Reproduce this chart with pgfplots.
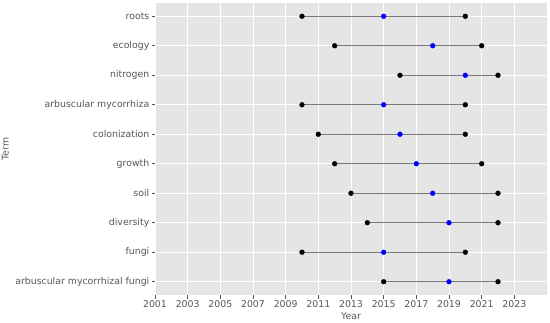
\documentclass[border=0pt]{standalone}
\usepackage{pgfplots}
\usepackage{pgfplotstable}
\pgfplotsset{compat=1.18}
\usepackage{fontspec}
\setmainfont{DejaVu Sans}
\definecolor{bggray}{HTML}{E5E5E5}
\definecolor{textgray}{HTML}{555555}
\definecolor{linegray}{HTML}{7A7A7A}
\pgfplotstableread{
y lo mid hi
9 2010 2015 2020
8 2012 2018 2021
7 2016 2020 2022
6 2010 2015 2020
5 2011 2016 2020
4 2012 2017 2021
3 2013 2018 2022
2 2014 2019 2022
1 2010 2015 2020
0 2015 2019 2022
}\terms
\begin{document}
\begin{tikzpicture}
\path[use as bounding box] (0,0) rectangle (550bp,323bp);
\begin{axis}[
  at={(155bp,28bp)}, anchor=south west,
  scale only axis, width=392bp, height=292bp,
  xmin=2001, xmax=2025, ymin=-0.45, ymax=9.45,
  xtick={2001,2003,...,2023}, ytick={0,...,9},
  yticklabels={arbuscular mycorrhizal fungi, fungi, diversity, soil, growth, colonization, arbuscular mycorrhiza, nitrogen, ecology, roots},
  axis background/.style={fill=bggray},
  axis line style={draw=none},
  grid=major, major grid style={white, line width=0.9pt},
  tick align=outside, major tick length=3.5bp,
  xtick pos=left, ytick pos=left,
  tick style={color=textgray, line width=0.8pt},
  ticklabel style={font=\fontsize{9.4}{10}\selectfont, color=textgray},
  x tick label style={/pgf/number format/1000 sep={}, inner sep=2bp},
  y tick label style={inner sep=2bp},
  /pgf/number format/assume math mode=true,
  xlabel=Year, ylabel=Term,
  label style={font=\fontsize{9.4}{10}\selectfont, color=textgray},
  xlabel style={yshift=1bp},
  ylabel style={yshift=1bp},
]
\addplot[linegray, line width=1.3bp] coordinates {(2010,9) (2020,9)};
\addplot[linegray, line width=1.3bp] coordinates {(2012,8) (2021,8)};
\addplot[linegray, line width=1.3bp] coordinates {(2016,7) (2022,7)};
\addplot[linegray, line width=1.3bp] coordinates {(2010,6) (2020,6)};
\addplot[linegray, line width=1.3bp] coordinates {(2011,5) (2020,5)};
\addplot[linegray, line width=1.3bp] coordinates {(2012,4) (2021,4)};
\addplot[linegray, line width=1.3bp] coordinates {(2013,3) (2022,3)};
\addplot[linegray, line width=1.3bp] coordinates {(2014,2) (2022,2)};
\addplot[linegray, line width=1.3bp] coordinates {(2010,1) (2020,1)};
\addplot[linegray, line width=1.3bp] coordinates {(2015,0) (2022,0)};
\addplot[only marks, mark=*, mark size=2.4bp, mark options={draw=blue, fill=blue}] table[x=mid, y=y] {\terms};
\addplot[only marks, mark=*, mark size=2.4bp, mark options={draw=black, fill=black}] table[x=lo, y=y] {\terms};
\addplot[only marks, mark=*, mark size=2.4bp, mark options={draw=black, fill=black}] table[x=hi, y=y] {\terms};
\end{axis}
\end{tikzpicture}
\end{document}
